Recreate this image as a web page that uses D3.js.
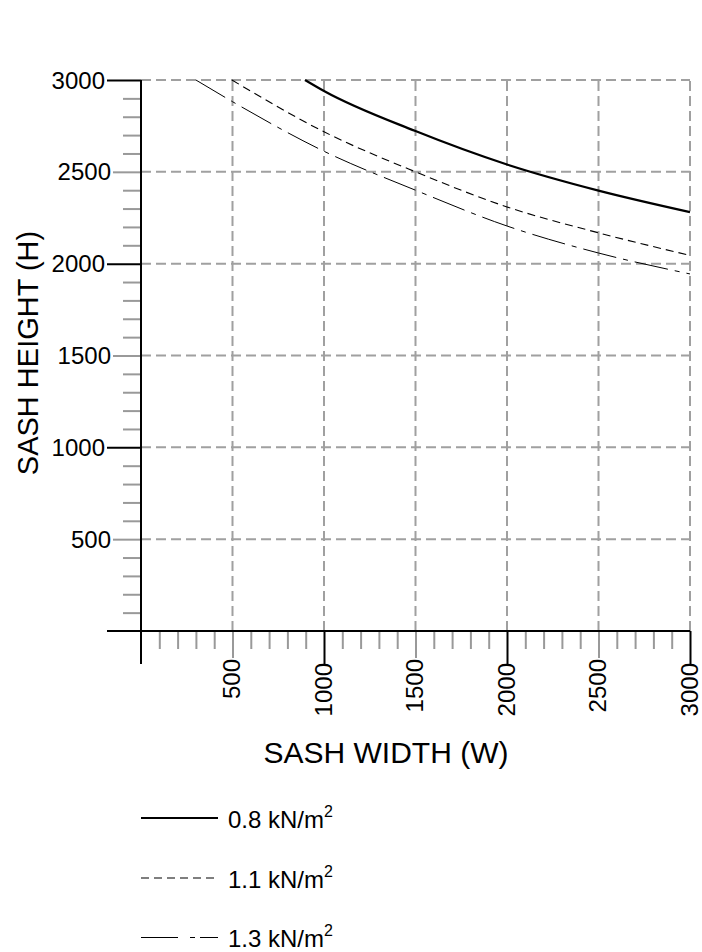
<!DOCTYPE html>
<html>
<head>
<meta charset="utf-8">
<script src="https://cdn.jsdelivr.net/npm/d3@7"></script>
<style>
  body { margin: 0; background: #fff; }
  text { font-family: "Liberation Sans", Arial, sans-serif; fill: #000; }
</style>
</head>
<body>
<svg id="chart" width="702" height="952"></svg>
<script>
// values
const majorTicks = [500, 1000, 1500, 2000, 2500, 3000];
const blackTicks = [1000, 2000, 3000];
const grayTicks = [500, 1500, 2500];
const minorTicks = [100, 200, 300, 400, 600, 700, 800, 900, 1100, 1200, 1300, 1400,
  1600, 1700, 1800, 1900, 2100, 2200, 2300, 2400, 2600, 2700, 2800, 2900];

const w08 = [896, 1000, 1500, 2000, 2500, 3000];
const h08 = [3000, 2940, 2722, 2540, 2398, 2281];
const w11 = [497, 1000, 1500, 2000, 2500, 3000];
const h11 = [3000, 2718, 2500, 2309, 2168, 2045];
const w13 = [300, 500, 1000, 1500, 2000, 2500, 3000];
const h13 = [3000, 2882, 2612, 2400, 2205, 2058, 1944];

const seriesLabels = ["0.8 kN/m", "1.1 kN/m", "1.3 kN/m"];

const svg = d3.select("#chart");
const x = d3.scaleLinear().domain([0, 3000]).range([141, 690]);
const y = d3.scaleLinear().domain([0, 3000]).range([631, 80]);

const gridColor = "#a0a0a0";

// grid
svg.append("g").selectAll("line").data(majorTicks).join("line")
  .attr("x1", d => x(d)).attr("x2", d => x(d))
  .attr("y1", y(0)).attr("y2", y(3000))
  .attr("stroke", gridColor).attr("stroke-width", 2).attr("stroke-dasharray", "10,5");
svg.append("g").selectAll("line").data(majorTicks).join("line")
  .attr("x1", x(0)).attr("x2", x(3000))
  .attr("y1", d => y(d)).attr("y2", d => y(d))
  .attr("stroke", gridColor).attr("stroke-width", 2).attr("stroke-dasharray", "10,5");

function styleAxis(g, color, width) {
  g.select(".domain").remove();
  g.selectAll("line").attr("stroke", color).attr("stroke-width", width);
  g.selectAll("text").remove();
}

// y axis ticks
svg.append("g").attr("transform", `translate(${x(0)},0)`)
  .call(d3.axisLeft(y).tickValues(minorTicks).tickSize(18))
  .call(g => styleAxis(g, "#999", 2));
svg.append("g").attr("transform", `translate(${x(0)},0)`)
  .call(d3.axisLeft(y).tickValues(grayTicks).tickSize(28))
  .call(g => styleAxis(g, "#999", 2));
svg.append("g").attr("transform", `translate(${x(0)},0)`)
  .call(d3.axisLeft(y).tickValues(blackTicks).tickSize(34))
  .call(g => styleAxis(g, "#000", 2));

// x axis ticks
svg.append("g").attr("transform", `translate(0,${y(0)})`)
  .call(d3.axisBottom(x).tickValues(minorTicks).tickSize(18))
  .call(g => styleAxis(g, "#999", 2));
svg.append("g").attr("transform", `translate(0,${y(0)})`)
  .call(d3.axisBottom(x).tickValues(grayTicks).tickSize(27))
  .call(g => styleAxis(g, "#999", 2));
svg.append("g").attr("transform", `translate(0,${y(0)})`)
  .call(d3.axisBottom(x).tickValues(blackTicks).tickSize(33))
  .call(g => styleAxis(g, "#000", 2));

// axis lines
svg.append("line").attr("x1", x(0)).attr("x2", x(0)).attr("y1", y(3000)).attr("y2", 664)
  .attr("stroke", "#000").attr("stroke-width", 2);
svg.append("line").attr("x1", 107).attr("x2", x(3000)).attr("y1", y(0)).attr("y2", y(0))
  .attr("stroke", "#000").attr("stroke-width", 2);

// tick labels
svg.append("g").selectAll("text").data(majorTicks).join("text")
  .attr("x", d => grayTicks.includes(d) ? 111 : 105)
  .attr("y", d => y(d))
  .attr("dy", "0.36em")
  .attr("text-anchor", "end")
  .style("font-size", "24px")
  .text(d => d);

svg.append("g").selectAll("text").data(majorTicks).join("text")
  .attr("transform", d => `translate(${x(d)},${grayTicks.includes(d) ? 659 : 663}) rotate(-90)`)
  .attr("dy", "0.32em")
  .attr("text-anchor", "end")
  .style("font-size", "24px")
  .text(d => d);

// axis titles
svg.append("text")
  .attr("transform", "translate(28,353) rotate(-90)")
  .attr("dy", "0.36em")
  .attr("text-anchor", "middle")
  .style("font-size", "29px")
  .text("SASH HEIGHT (H)");
svg.append("text")
  .attr("x", 386).attr("y", 763)
  .attr("text-anchor", "middle")
  .style("font-size", "30px")
  .text("SASH WIDTH (W)");

// curves
const line = d3.line().x(d => x(d[0])).y(d => y(d[1])).curve(d3.curveMonotoneX);
const series = [
  { pts: d3.zip(w08, h08), width: 2.2, dash: null },
  { pts: d3.zip(w11, h11), width: 1.1, dash: "8,5" },
  { pts: d3.zip(w13, h13), width: 1, dash: "34,7,5,7" }
];
svg.append("g").selectAll("path").data(series).join("path")
  .attr("d", d => line(d.pts))
  .attr("fill", "none")
  .attr("stroke", "#000")
  .attr("stroke-width", d => d.width)
  .attr("stroke-dasharray", d => d.dash);

// legend
const legendDash = [null, "8,5", "37,12,5,5"];
const leg = svg.append("g").selectAll("g").data(series).join("g")
  .attr("transform", (d, i) => `translate(141,${818 + i * 59.5})`);
leg.append("line").attr("x1", 0).attr("x2", 77)
  .attr("y1", (d, i) => i === 0 ? 0 : 0.5).attr("y2", (d, i) => i === 0 ? 0 : 0.5)
  .attr("stroke", "#000")
  .attr("stroke-width", (d, i) => i === 0 ? 2 : 1.2)
  .attr("stroke-dasharray", (d, i) => legendDash[i]);
const lt = leg.append("text").attr("x", 87).attr("y", 10).style("font-size", "24px");
lt.append("tspan").text((d, i) => seriesLabels[i]);
lt.append("tspan").attr("dy", -11).style("font-size", "16px").text("2");
</script>
</body>
</html>
